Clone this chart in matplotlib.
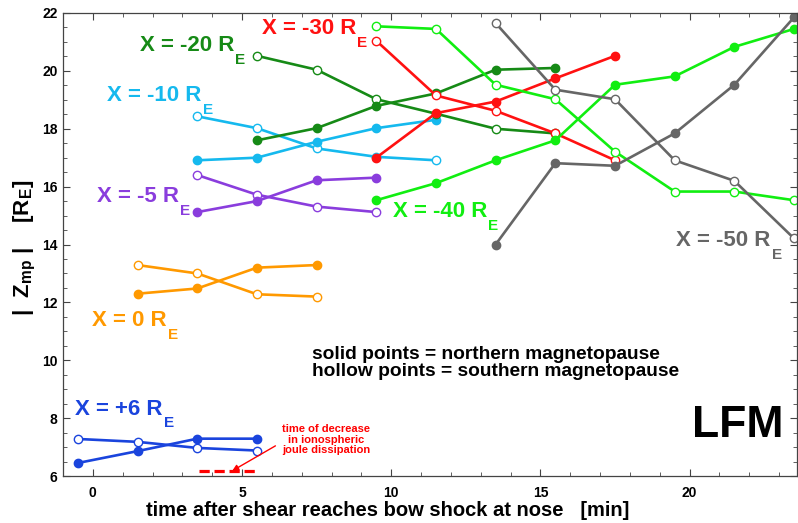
import matplotlib
matplotlib.use("Agg")
import matplotlib.pyplot as plt
from matplotlib.ticker import MultipleLocator

plt.rcParams['font.family'] = ['Liberation Sans', 'DejaVu Sans']
plt.rcParams['font.weight'] = 'bold'
plt.rcParams['mathtext.fontset'] = 'custom'
plt.rcParams['mathtext.rm'] = 'Liberation Sans:bold'
plt.rcParams['mathtext.bf'] = 'Liberation Sans:bold'
plt.rcParams['mathtext.it'] = 'Liberation Sans:bold'
plt.rcParams['mathtext.default'] = 'bf'

# ---- data: time [min] and |Z_mp| [R_E] ----
t_p6 = [-0.5, 1.5, 3.5, 5.5]
n_p6 = [6.45, 6.86, 7.29, 7.29]
s_p6 = [7.28, 7.18, 6.97, 6.88]

t_0 = [1.5, 3.5, 5.5, 7.5]
n_0 = [12.3, 12.48, 13.2, 13.29]
s_0 = [13.29, 13.0, 12.28, 12.2]

t_m5 = [3.5, 5.5, 7.5, 9.5]
n_m5 = [15.12, 15.5, 16.22, 16.31]
s_m5 = [16.4, 15.72, 15.31, 15.12]

t_m10 = [3.5, 5.5, 7.5, 9.5, 11.5]
n_m10 = [16.91, 17.0, 17.55, 18.02, 18.31]
s_m10 = [18.43, 18.02, 17.32, 17.03, 16.91]

t_m20 = [5.5, 7.5, 9.5, 11.5, 13.5, 15.5]
n_m20 = [17.6, 18.02, 18.79, 19.22, 20.04, 20.1]
s_m20 = [20.52, 20.04, 19.02, 18.52, 18.0, 17.84]

t_m30 = [9.5, 11.5, 13.5, 15.5, 17.5]
n_m30 = [17.0, 18.54, 18.94, 19.74, 20.52]
s_m30 = [21.04, 19.15, 18.62, 17.84, 16.91]

t_m40 = [9.5, 11.5, 13.5, 15.5, 17.5, 19.5, 21.5, 23.5]
n_m40 = [15.53, 16.12, 16.91, 17.6, 19.52, 19.81, 20.83, 21.45]
s_m40 = [21.54, 21.45, 19.52, 19.02, 17.21, 15.83, 15.83, 15.53]

t_m50 = [13.5, 15.5, 17.5, 19.5, 21.5, 23.5]
n_m50 = [14.0, 16.81, 16.72, 17.84, 19.52, 21.85]
s_m50 = [21.65, 19.35, 19.02, 16.91, 16.2, 14.21]

joule_window = [3.55, 5.57]
joule_level = [6.16, 6.16]

series = [
    ("X = +6 R", "#1a44dd", t_p6, n_p6, s_p6, (-0.6, 8.12)),
    ("X = 0 R", "#ff9900", t_0, n_0, s_0, (-0.03, 11.17)),
    ("X = -5 R", "#8a3ddd", t_m5, n_m5, s_m5, (0.13, 15.46)),
    ("X = -10 R", "#15b9ee", t_m10, n_m10, s_m10, (0.47, 18.96)),
    ("X = -20 R", "#168a16", t_m20, n_m20, s_m20, (1.57, 20.69)),
    ("X = -30 R", "#ff1111", t_m30, n_m30, s_m30, (5.66, 21.27)),
    ("X = -40 R", "#11ee11", t_m40, n_m40, s_m40, (10.05, 14.94)),
    ("X = -50 R", "#666666", t_m50, n_m50, s_m50, (19.56, 13.94)),
]

fig = plt.figure(figsize=(7.98, 5.23), dpi=100)
ax = fig.add_axes([63/798, 1-476/523, (797-63)/798, (476-13)/523])

for name, col, t, n, s, pos in series:
    ax.plot(t, s, '-o', color=col, lw=1.9, ms=6, mfc='white', mec=col, mew=1.0)
    ax.plot(t, n, '-o', color=col, lw=1.9, ms=6, mfc=col, mec=col, mew=1.0)
    txt = ax.text(pos[0], pos[1], name, color=col, fontsize=16, fontweight='bold',
                  ha='left', va='baseline')
    ax.annotate('E', xy=(1, 0), xycoords=txt, xytext=(1.0, -5.5),
                textcoords='offset points', color=col, fontsize=11,
                fontweight='bold', ha='left', va='baseline')

ax.plot(joule_window, joule_level, color='red', lw=2.3, dashes=(3.2, 1.5), solid_capstyle='butt')
ax.annotate('', xy=(4.59, 6.13), xytext=(6.2, 7.09),
            arrowprops=dict(arrowstyle='-|>', color='red', lw=1.0, mutation_scale=9))
ax.text(7.82, 7.26, "time of decrease\nin ionospheric\njoule dissipation", color='red',
        fontsize=8, fontweight='bold', ha='center', va='center', linespacing=1.05)

ax.text(7.34, 10.03, "solid points = northern magnetopause", fontsize=13.8,
        fontweight='bold', ha='left', va='baseline')
ax.text(7.34, 9.44, "hollow points = southern magnetopause", fontsize=13.8,
        fontweight='bold', ha='left', va='baseline')
ax.text(20.07, 7.36, "LFM", fontsize=32, fontweight='bold', ha='left', va='baseline')

ax.set_xlim(-1.0, 23.6)
ax.set_ylim(6, 22)
ax.xaxis.set_major_locator(MultipleLocator(5))
ax.xaxis.set_minor_locator(MultipleLocator(1))
ax.yaxis.set_major_locator(MultipleLocator(2))
ax.yaxis.set_minor_locator(MultipleLocator(0.5))
ax.tick_params(which='both', direction='in', top=True, right=True, color='#444444')
ax.tick_params(which='major', length=5, width=0.8, labelsize=10)
ax.tick_params(which='minor', length=3, width=0.6)
ax.tick_params(axis='x', which='major', pad=7)
ax.tick_params(axis='y', which='major', pad=4)
for lab in ax.get_xticklabels() + ax.get_yticklabels():
    lab.set_fontweight('bold')
for sp in ax.spines.values():
    sp.set_color('#444444')
    sp.set_linewidth(0.9)

fig.text(387.5/798, 1-516/523, "time after shear reaches bow shock at nose   [min]",
         fontsize=14.5, fontweight='bold', ha='center', va='baseline')
fig.text(25/798, 1-248/523, r"|  Z$_{mp}$ |    [R$_{E}$]", fontsize=16,
         fontweight='bold', rotation=90, ha='center', va='center')

fig.savefig("out.png", dpi=100)
